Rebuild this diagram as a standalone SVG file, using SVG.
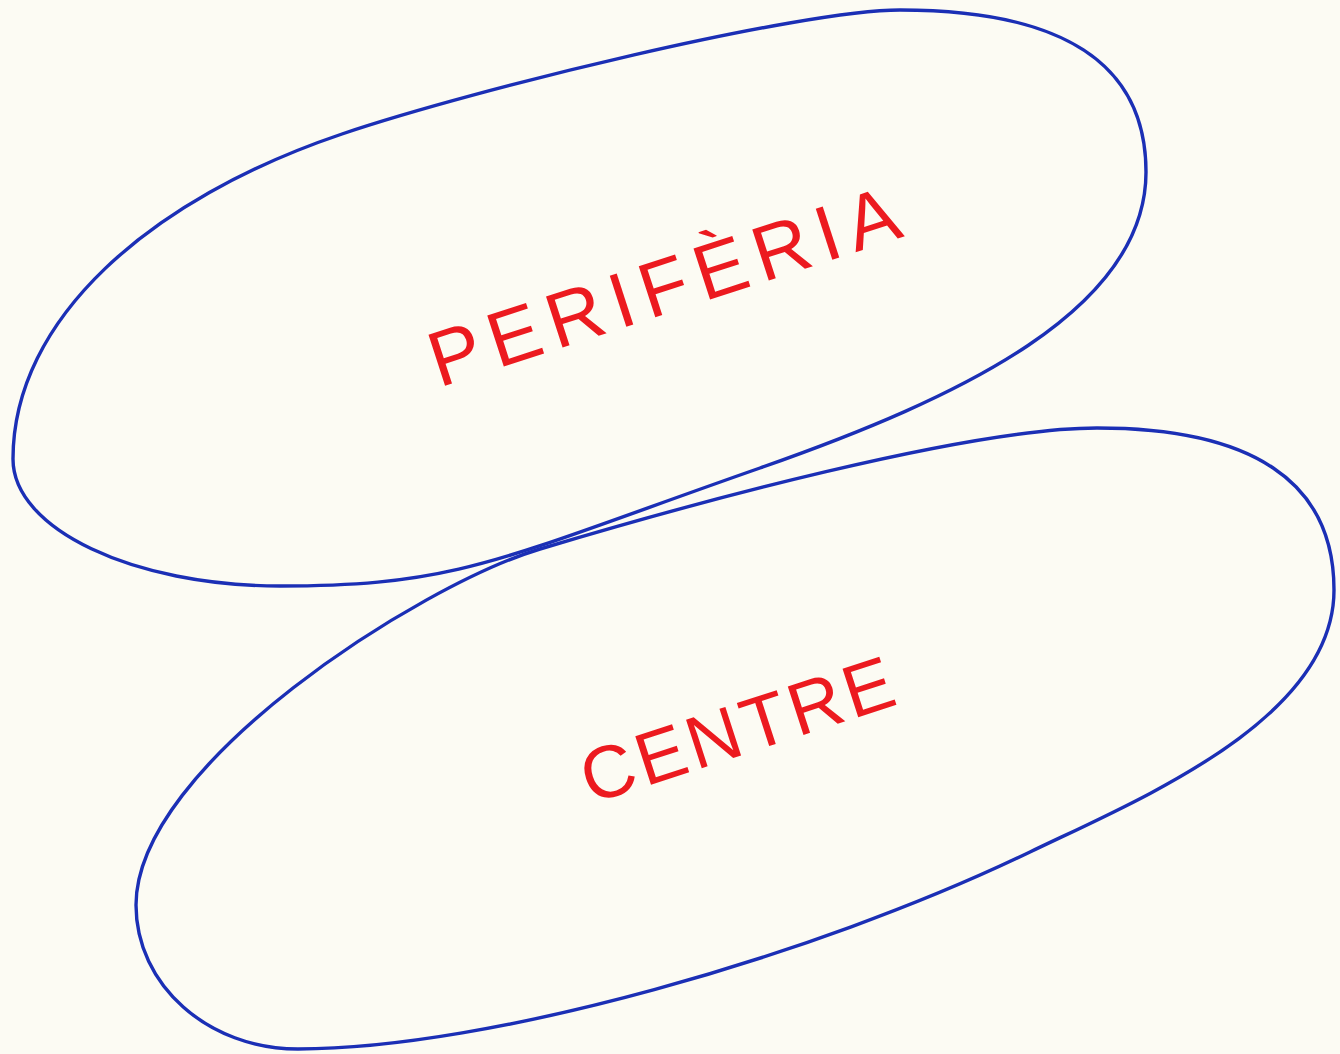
<svg xmlns="http://www.w3.org/2000/svg" width="1340" height="1054" viewBox="0 0 1340 1054">
<style>
.shape{fill:none;stroke:#1b2fb5;stroke-width:3.4;stroke-linejoin:round}
.lbl{font-family:"Liberation Sans",Arial,sans-serif;fill:#ec1a1f;text-anchor:middle}
</style>
<rect width="1340" height="1054" fill="#fcfbf3"/>
<g id="periferia">
<path class="shape" d="M900,10 C1060,10 1146,62 1146,172 C1146,310 960,398 760,468 C500,559 460,586 280,586 C133,586 13,529 13,459 C13,319 149.5,199 342,134 C476.75,88.5 800,10 900,10 Z"/>
<text class="lbl" x="672" y="312" font-size="78" textLength="490" lengthAdjust="spacing" transform="rotate(-18 672 312)">PERIFÈRIA</text>
</g>
<g id="centre">
<path class="shape" d="M1097,428 C1250,428 1334,480 1334,590 C1334,720 1138,799.8 1030,852 C814,956.4 488,1049 298,1049 C208,1049 136,985 136,905 C136,765 420,585 540,549 C690,504 967,428 1097,428 Z"/>
<text class="lbl" x="745" y="754" font-size="74" textLength="325" lengthAdjust="spacing" transform="rotate(-18 745 754)">CENTRE</text>
</g>
<g id="connectors"></g>
</svg>
